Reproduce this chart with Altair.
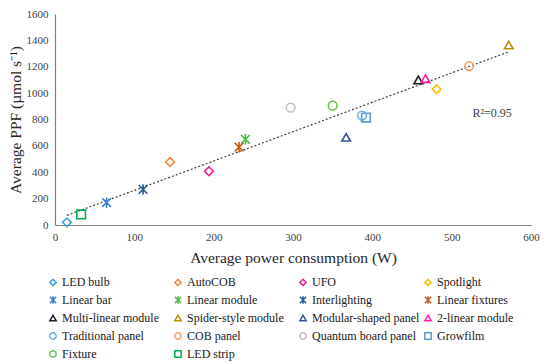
import altair as alt
import pandas as pd

names = ["LED bulb", "AutoCOB", "UFO", "Spotlight",
         "Linear bar", "Linear module", "Interlighting", "Linear fixtures",
         "Multi-linear module", "Spider-style module", "Modular-shaped panel", "2-linear module",
         "Traditional panel", "COB panel", "Quantum board panel", "Growfilm",
         "Fixture", "LED strip"]
power = [15, 145, 194, 481, 65, 240, 111, 232, 458, 572, 367, 467, 387, 522, 297, 392, 350, 33]
ppf = [20, 478, 408, 1030, 170, 650, 270, 590, 1100, 1365, 665, 1110, 830, 1205, 890, 815, 905, 80]
x_ticks = [0, 100, 200, 300, 400, 500, 600]
y_ticks = [0, 200, 400, 600, 800, 1000, 1200, 1400, 1600]

STAR = "M-1,-1L1,1M-1,1L1,-1M0,-1.2L0,1.2"
shapes = ["diamond", "diamond", "diamond", "diamond",
          STAR, STAR, STAR, STAR,
          "triangle-up", "triangle-up", "triangle-up", "triangle-up",
          "circle", "circle", "circle", "square",
          "circle", "square"]
colors = ["#3d9ee0", "#f5873a", "#ea1f9b", "#ffc000",
          "#3a7bd5", "#4cb848", "#255e91", "#c55a11",
          "#1a1a1a", "#bf8f00", "#2f5597", "#ff1fa5",
          "#6db3e6", "#f4a06a", "#bfbfbf", "#5b9bd5",
          "#6cc04a", "#00b050"]

df = pd.DataFrame({"name": names, "power": power, "ppf": ppf})
FONT = "Liberation Serif"
TXT = "#404040"

xs = alt.X("power:Q", scale=alt.Scale(domain=[0, 600], nice=False),
           axis=alt.Axis(title="Average power consumption (W)", values=x_ticks,
                         format="d", grid=False, ticks=False, labelPadding=6, titlePadding=8,
                         labelOverlap=False, labelFlush=False))
ys = alt.Y("ppf:Q", scale=alt.Scale(domain=[0, 1600], nice=False),
           axis=alt.Axis(title="Average PPF (µmol s⁻¹)", values=y_ticks,
                         format="d", grid=False, ticks=False, labelPadding=7, titlePadding=3,
                         labelOverlap=False, labelFlush=False))

leg = alt.Legend(title=None, orient="none", direction="horizontal", legendX=-8, legendY=262,
                 columns=4, gridAlign="all", columnPadding=1, rowPadding=4,
                 symbolSize=40, symbolStrokeWidth=1.5, labelFontSize=12,
                 labelFont=FONT, labelColor="#202020", labelOffset=3)

points = alt.Chart(df).mark_point(filled=False, size=75, strokeWidth=1.6, opacity=1).encode(
    x=xs, y=ys,
    shape=alt.Shape("name:N", scale=alt.Scale(domain=names, range=shapes), legend=leg),
    color=alt.Color("name:N", scale=alt.Scale(domain=names, range=colors), legend=leg),
)

trend = alt.Chart(df).transform_regression("power", "ppf", extent=[15, 572]).mark_line(
    color="#404040", strokeDash=[2, 2], strokeWidth=1.2
).encode(x=xs, y=ys)

r2 = alt.Chart(pd.DataFrame({"power": [551], "ppf": [850], "t": ["R²=0.95"]})).mark_text(
    font=FONT, fontSize=12, color=TXT
).encode(x=xs, y=ys, text="t:N")

chart = alt.layer(trend, points, r2).properties(
    width=476, height=211,
    padding={"left": 0, "top": 0, "right": 0, "bottom": 0},
).configure_view(stroke=None).configure_axis(
    labelFont=FONT, titleFont=FONT, labelFontSize=11, titleFontSize=15.5,
    labelColor=TXT, titleColor="#262626", titleFontWeight="normal",
    domainColor="#7f7f7f", domainWidth=1.2, labelOverlap=False, labelFlush=False,
)

chart.save("out.html", embed_options={"renderer": "svg", "actions": False})
